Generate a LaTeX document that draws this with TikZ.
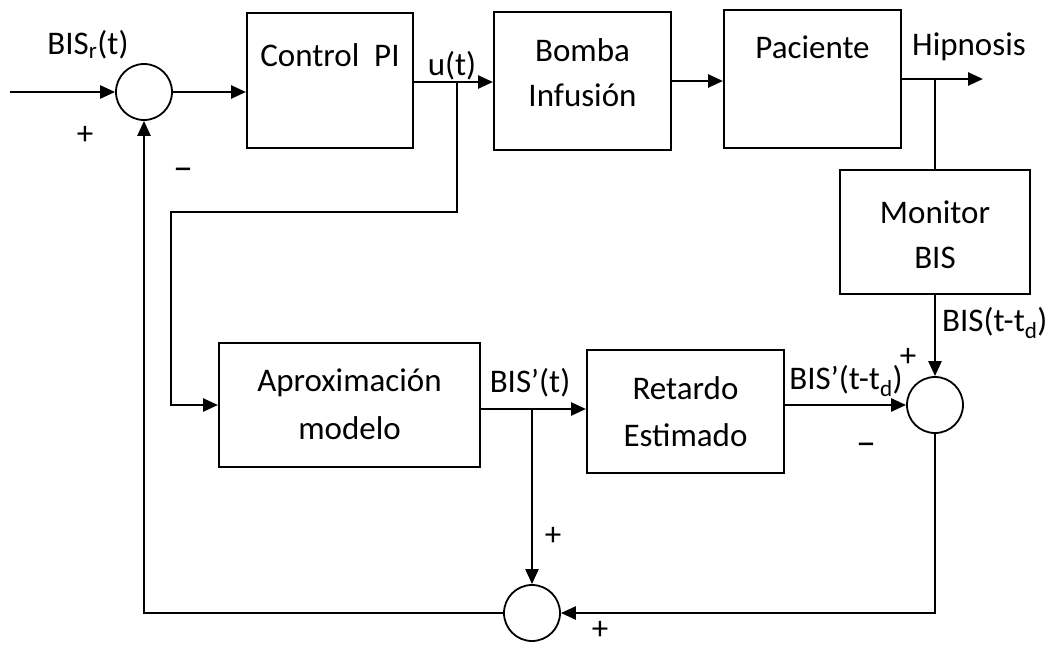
\documentclass[tikz,border=0pt]{standalone}
\usepackage{fontspec}
\setmainfont{Carlito}
\usetikzlibrary{arrows.meta}
\tikzset{
  blk/.style={draw, line width=2pt, rectangle, inner sep=0pt},
  sumc/.style={draw, line width=1.8pt, circle, minimum size=56pt, inner sep=0pt},
  txt/.style={inner sep=0pt, font=\fontsize{33}{40}\selectfont},
  dsh/.style={inner sep=0pt, font=\fontsize{40}{46}\selectfont},
  conn/.style={line width=2.6pt},
  arr/.style={line width=2.6pt, -{Triangle[length=15pt,width=13pt]}},
}
\begin{document}
\begin{tikzpicture}[x=1pt,y=-1pt]
\useasboundingbox (0,0) rectangle (1050,648);
% blocks
\node[blk, minimum width=166pt, minimum height=135pt] (ctrl) at (330,80.5) {};
\node[blk, minimum width=177pt, minimum height=138pt] (bomba) at (582.5,81) {};
\node[blk, minimum width=177pt, minimum height=138pt] (pac) at (812.5,79) {};
\node[blk, minimum width=190pt, minimum height=124pt] (mon) at (935,232) {};
\node[blk, minimum width=261pt, minimum height=124pt] (aprox) at (349.5,405) {};
\node[blk, minimum width=197pt, minimum height=123pt] (ret) at (685.5,411.5) {};
% summing junctions
\node[sumc] (c1) at (144,92) {};
\node[sumc] (c2) at (935,405) {};
\node[sumc] (c3) at (532,613) {};
% coordinates
\coordinate (in) at (10,92);
\coordinate (j1) at (457,82);
\coordinate (k1) at (171,212);
\coordinate (out) at (983,79);
\coordinate (j2) at (532,409);
% connectors
\draw[arr] (in) -- (c1.west);
\draw[arr] (c1.east) -- (ctrl.west |- c1);
\draw[conn] (ctrl.east |- j1) -- (j1);
\draw[arr] (j1) -- (bomba.west |- j1);
\draw[arr] (j1) |- (k1) -- (k1 |- aprox.west) -- (aprox.west);
\draw[arr] (bomba.east) -- (bomba.east -| pac.west);
\draw[arr] (pac.east) -- (out);
\draw[conn] (mon.north |- pac.east) -- (mon.north);
\draw[arr] (mon.south) -- (c2.north);
\draw[conn] (aprox.east |- j2) -- (j2);
\draw[arr] (j2) -- (ret.west |- j2);
\draw[arr] (j2) -- (c3.north);
\draw[arr] (ret.east |- c2) -- (c2.west);
\draw[arr] (c2.south) |- (c3.east);
\draw[arr] (c3.west) -| (c1.south);
% texts
\node[txt] (tbisr) at (88,45) {BIS\textsubscript{r}(t)};
\node[txt] (p1) at (85,135) {+};
\node[dsh] (m1) at (183,174) {–};
\node[txt] (tctrl) at (330,55) {Control\ \ PI};
\node[txt] (tu) at (452,66) {u(t)};
\node[txt] (tb1) at (582.5,50) {Bomba};
\node[txt] (tb2) at (582.5,95) {Infusión};
\node[txt] (tpac) at (812.5,47) {Paciente};
\node[txt] (thip) at (969,47) {Hipnosis};
\node[txt] (tm1) at (935,212) {Monitor};
\node[txt] (tm2) at (935,258) {BIS};
\node[txt, anchor=west] (tbistd) at (942,323) {BIS(t-t\textsubscript{d})};
\node[txt] (p2) at (908,357) {+};
\node[txt] (tbispd) at (846,381) {BIS’(t-t\textsubscript{d})};
\node[dsh] (m2) at (866,449) {–};
\node[txt] (ta1) at (349.5,383) {Aproximación};
\node[txt] (ta2) at (349.5,428) {modelo};
\node[txt] (tbisp) at (530,383) {BIS’(t)};
\node[txt] (tr1) at (685.5,388) {Retardo};
\node[txt] (tr2) at (685.5,435) {Estimado};
\node[txt] (p3) at (553,536) {+};
\node[txt] (p4) at (600,630) {+};
\end{tikzpicture}
\end{document}
